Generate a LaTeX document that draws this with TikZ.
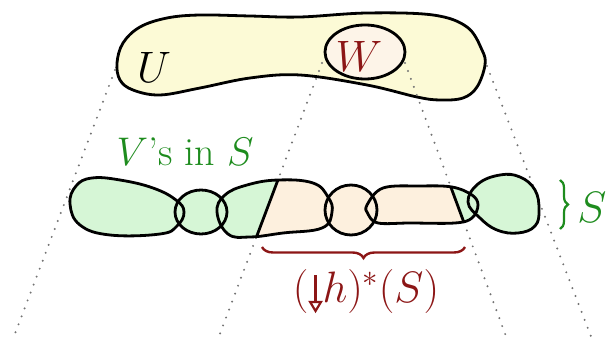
\RequirePackage{fix-cm}
\documentclass[tikz,border=0pt]{standalone}
\usepackage{amsmath}
\usepackage{tikz}
\usetikzlibrary{arrows.meta, calc, decorations.pathreplacing}
\definecolor{uyellow}{RGB}{252,250,214}
\definecolor{wfill}{RGB}{253,244,232}
\definecolor{vgreen}{RGB}{214,246,214}
\definecolor{hbeige}{RGB}{253,240,222}
\definecolor{sgreen}{RGB}{30,140,30}
\definecolor{wred}{RGB}{140,22,22}
% the pieces of the chain S
\newcommand{\shapeA}{plot[smooth cycle, tension=0.7] coordinates {(70,204) (76,186) (92,178) (120,180) (153,188) (176,200) (184,212) (177,226) (160,234) (110,235) (80,225)}}
\newcommand{\shapeB}{(201,212) ellipse [x radius=26, y radius=22]}
\newcommand{\shapeC}{plot[smooth cycle, tension=0.7] coordinates {(217,212) (225,195) (247,185) (278,180) (313,183) (328,197) (332,212) (322,228) (283,233) (250,237) (228,234)}}
\newcommand{\shapeD}{(351,210) ellipse [x radius=26, y radius=25]}
\newcommand{\shapeE}{plot[smooth cycle, tension=0.6] coordinates {(367,205) (383,188) (420,186) (452,187) (472,195) (478,205) (472,218) (455,223) (410,223) (378,223) (368,214)}}
\newcommand{\shapeF}{plot[smooth cycle, tension=0.7] coordinates {(468,202) (478,184) (500,175) (520,177) (535,190) (539,210) (535,226) (518,233) (497,230) (480,218)}}
% arrow with open head
\newcommand{\hdown}{\tikz[baseline=0pt,x=1em,y=1em]\draw[wred,line width=0.05em,-{Triangle[open,length=0.28em,width=0.32em,line width=0.05em]}] (0,0.62)--(0,-0.24);}

\begin{document}
\begin{tikzpicture}[x=1pt, y=-1pt,
  blob/.style={line width=2.8pt, line join=round},
  proj/.style={black!55, line width=2.2pt, line cap=round, dash pattern=on 0pt off 8.5pt},
  big/.style={font=\fontsize{44}{48}\selectfont}]
  \useasboundingbox (0,0) rectangle (606,339);
  % U with W inside
  \draw[blob, fill=uyellow] plot[smooth cycle, tension=0.6] coordinates {(117,63) (123,43) (140,27) (167,18) (200,15) (250,16) (300,17) (367,13) (433,15) (467,27) (482,50) (485,65) (477,87) (463,98) (440,100) (417,97) (367,85) (300,75) (250,78) (200,88) (160,95) (133,90) (120,80)};
  \draw[blob, fill=wfill] (365,52) ellipse [x radius=40, y radius=27];
  \node[big] (U) at (154,67) {$U$};
  \node[big, wred] (W) at (359,56) {$W$};
  % projection lines
  \coordinate (uL) at (115,70);  \coordinate (uLb) at (13,339);
  \coordinate (wL) at (322,63);  \coordinate (wLb) at (218,339);
  \coordinate (wR) at (405,63);  \coordinate (wRb) at (507,339);
  \coordinate (uR) at (487,66);  \coordinate (uRb) at (592,339);
  \draw[proj] (uL) -- (uLb);
  \draw[proj] (wL) -- (wLb);
  \draw[proj] (wR) -- (wRb);
  \draw[proj] (uR) -- (uRb);
  % the chain S, green outside and beige between the lines from W
  \fill[vgreen] \shapeA; \fill[vgreen] \shapeB; \fill[vgreen] \shapeC;
  \fill[vgreen] \shapeD; \fill[vgreen] \shapeE; \fill[vgreen] \shapeF;
  \begin{scope}
    \clip (wL) -- (wLb) -- (wRb) -- (wR) -- cycle;
    \fill[hbeige] \shapeC; \fill[hbeige] \shapeD; \fill[hbeige] \shapeE;
  \end{scope}
  \begin{scope}
    \clip \shapeC;
    \draw[blob] (wL) -- (wLb);
  \end{scope}
  \begin{scope}
    \clip \shapeE;
    \draw[blob] (wR) -- (wRb);
  \end{scope}
  \draw[blob] \shapeA; \draw[blob] \shapeB; \draw[blob] \shapeC;
  \draw[blob] \shapeD; \draw[blob] \shapeE; \draw[blob] \shapeF;
  \node[big, sgreen, font=\fontsize{40}{44}\selectfont] (vs) at (185,152) {$V$'s in $S$};
  % braces
  \coordinate (sTop) at (560,180); \coordinate (sBot) at (560,229);
  \draw[sgreen, line width=2.2pt, decorate, decoration={brace, amplitude=8pt}] (sTop) -- (sBot);
  \node[big, sgreen] (S) at (592,207) {$S$};
  \coordinate (hL) at (262,247); \coordinate (hR) at (465,247);
  \draw[wred, line width=2.4pt, decorate, decoration={brace, amplitude=11pt}] (hR) -- (hL);
  \node[big, wred] (pb) at (366,292) {$(\hdown h)^*(S)$};
\end{tikzpicture}
\end{document}
